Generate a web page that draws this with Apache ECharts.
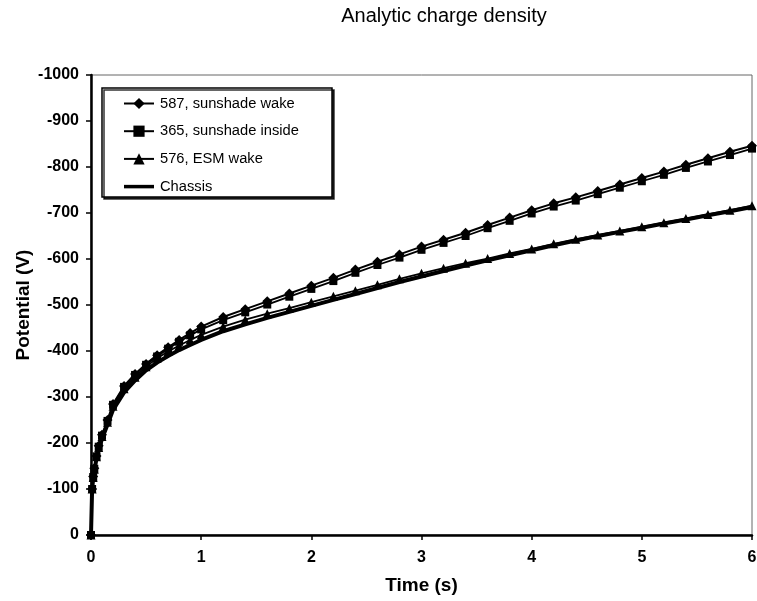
<!DOCTYPE html>
<html>
<head>
<meta charset="utf-8">
<script src="https://cdn.jsdelivr.net/npm/echarts@6/dist/echarts.min.js"></script>
<style>
html,body{margin:0;padding:0;background:#fff;}
#chart{width:757px;height:601px;}
</style>
</head>
<body>
<div id="chart"></div>
<script>
var timeS = [0,0.01,0.02,0.03,0.05,0.07,0.1,0.15,0.2,0.3,0.4,0.5,0.6,0.7,0.8,0.9,1.0,1.2,1.4,1.6,1.8,2.0,2.2,2.4,2.6,2.8,3.0,3.2,3.4,3.6,3.8,4.0,4.2,4.4,4.6,4.8,5.0,5.2,5.4,5.6,5.8,6.0];
var sunshadeWake587 = [0,-100,-127,-145,-172,-194,-218,-250,-285,-324,-350,-372,-391,-408,-424,-439,-453,-474,-491,-508,-525,-542,-559,-577,-594,-610,-627,-642,-657,-674,-690,-706,-721,-734,-748,-762,-776,-790,-805,-819,-833,-846];
var sunshadeInside365 = [0,-100,-126,-144,-171,-192,-216,-248,-283,-322,-348,-370,-388,-405,-420,-434,-447,-467,-484,-501,-518,-535,-552,-570,-587,-603,-620,-635,-650,-667,-683,-699,-714,-727,-741,-755,-769,-783,-798,-812,-826,-840];
var esmWake576 = [0,-100,-125,-143,-170,-190,-214,-245,-280,-318,-343,-366,-384,-399,-412,-424,-435,-453,-468,-481,-493,-506,-519,-531,-544,-557,-569,-580,-591,-601,-612,-622,-633,-643,-652,-661,-670,-679,-688,-697,-706,-716];
var chassis = [0,-98,-123,-140,-166,-186,-209,-240,-272,-310,-336,-358,-375,-389,-402,-413,-424,-443,-458,-472,-485,-498,-511,-524,-537,-550,-562,-574,-586,-597,-608,-619,-630,-640,-650,-659,-668,-677,-686,-695,-704,-713];
var seriesNames = ['587, sunshade wake','365, sunshade inside','576, ESM wake','Chassis'];

function pairs(vals){ return timeS.map(function(t,i){ return [t, vals[i]]; }); }

var FONT = '"Liberation Sans", Arial, Helvetica, sans-serif';
var chart = echarts.init(document.getElementById('chart'), null, {renderer:'canvas'});
chart.setOption({
  animation:false,
  backgroundColor:'#ffffff',
  textStyle:{fontFamily:FONT},
  grid:{left:91,right:5,top:75,bottom:66,containLabel:false,outerBoundsMode:'none',show:true,borderColor:'#666',borderWidth:1,backgroundColor:'transparent'},
  graphic:[
    {type:'text',x:444,y:16,z:10,style:{text:'Analytic charge density',font:'20px '+FONT,fill:'#000',textAlign:'center',textVerticalAlign:'middle'}},
    {type:'rect',z:1,shape:{x:102,y:88,width:230,height:109},style:{fill:'#fff',stroke:'#000',lineWidth:1.5,shadowColor:'rgba(0,0,0,0.8)',shadowOffsetX:2,shadowOffsetY:2,shadowBlur:0}}
  ],
  legend:{
    data:[
      {name:seriesNames[0]},
      {name:seriesNames[1]},
      {name:seriesNames[2]},
      {name:seriesNames[3],icon:'path://M0,0 L30,0 L30,3.5 L0,3.5 Z'}
    ],
    orient:'vertical',left:123,top:96,padding:0,itemGap:12.7,
    itemWidth:30,itemHeight:14,z:20,
    textStyle:{fontFamily:FONT,fontSize:14.7,color:'#000',padding:[0,0,0,1]}
  },
  xAxis:{
    type:'value',min:0,max:6,interval:1,
    name:'Time (s)',nameLocation:'middle',nameGap:41,nameMoveOverlap:false,
    nameTextStyle:{fontFamily:FONT,fontSize:19,fontWeight:'bold',color:'#000'},
    axisLine:{show:true,onZero:false,lineStyle:{color:'#000',width:2.5}},
    axisTick:{show:true,inside:false,length:5,lineStyle:{color:'#000',width:1.5}},
    axisLabel:{margin:15,fontFamily:FONT,fontSize:16,fontWeight:'bold',color:'#000'},
    splitLine:{show:false}
  },
  yAxis:{
    type:'value',min:-1000,max:0,interval:100,inverse:true,
    name:'Potential (V)',nameLocation:'middle',nameGap:58,nameMoveOverlap:false,
    nameTextStyle:{fontFamily:FONT,fontSize:19,fontWeight:'bold',color:'#000'},
    axisLine:{show:true,onZero:false,lineStyle:{color:'#000',width:2.5}},
    axisTick:{show:true,inside:false,length:5,lineStyle:{color:'#000',width:1.5}},
    axisLabel:{margin:12,fontFamily:FONT,fontSize:16,fontWeight:'bold',color:'#000',formatter:function(v){return String(v);}},
    splitLine:{show:false}
  },
  series:[
    {name:seriesNames[0],type:'line',data:pairs(sunshadeWake587),symbol:'diamond',symbolSize:10,showAllSymbol:true,
     lineStyle:{color:'#000',width:2},itemStyle:{color:'#000'},z:4},
    {name:seriesNames[1],type:'line',data:pairs(sunshadeInside365),symbol:'rect',symbolSize:8,showAllSymbol:true,
     lineStyle:{color:'#000',width:1.8},itemStyle:{color:'#000'},z:3},
    {name:seriesNames[2],type:'line',data:pairs(esmWake576),symbol:'triangle',symbolSize:9,showAllSymbol:true,
     lineStyle:{color:'#000',width:1.8},itemStyle:{color:'#000'},z:3},
    {name:seriesNames[3],type:'line',data:pairs(chassis),symbol:'none',showSymbol:false,
     lineStyle:{color:'#000',width:4},itemStyle:{color:'#000'},z:2}
  ]
});
</script>
</body>
</html>
